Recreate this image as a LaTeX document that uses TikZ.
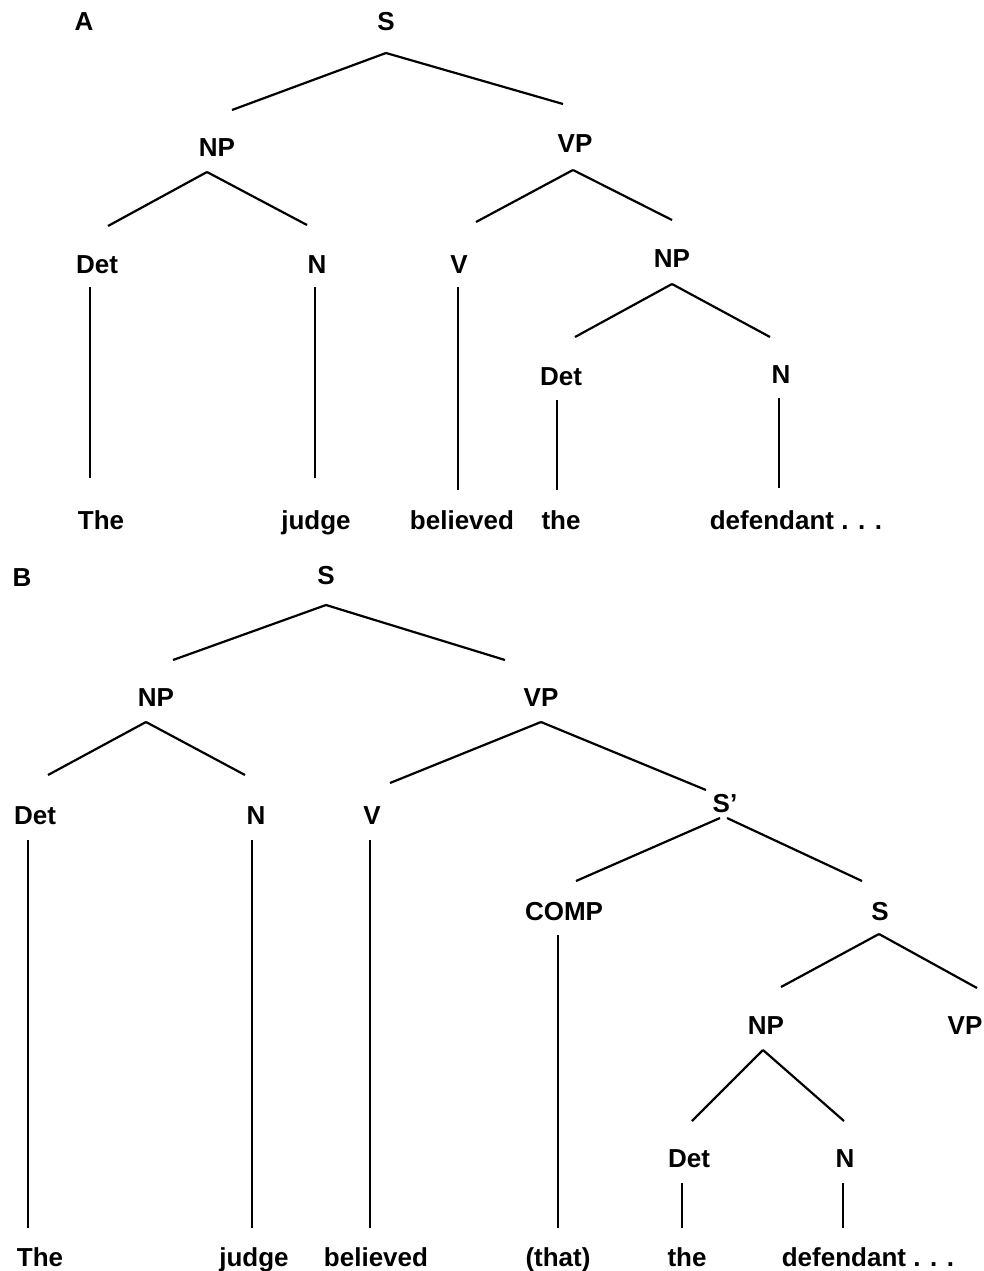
\documentclass[tikz,border=0pt]{standalone}
\usepackage{fontspec}
\setmainfont{Liberation Sans}
\begin{document}
\begin{tikzpicture}[x=1pt,y=-1pt,
  lbl/.style={anchor=base,inner sep=0pt,font=\fontsize{26}{31}\selectfont\bfseries},
  branch/.style={line width=2.2pt},
  stem/.style={line width=1.3pt}]
\useasboundingbox (0,0) rectangle (983,1271);

% ---------- tree A ----------
\node[lbl] (aLab) at (84,31)  {A};
\node[lbl] (aS)   at (386,31) {S};
\node[lbl] (aNP)  at (217,156) {NP};
\node[lbl] (aVP)  at (575,152) {VP};
\node[lbl] (aDet) at (97,273) {Det};
\node[lbl] (aN)   at (317,273) {N};
\node[lbl] (aV)   at (459,273) {V};
\node[lbl] (aNPb) at (672,267) {NP};
\node[lbl] (aDetb) at (561,385) {Det};
\node[lbl] (aNb)  at (781,383) {N};
\node[lbl] (aw1) at (101,529) {The};
\node[lbl] (aw2) at (316,529) {judge};
\node[lbl] (aw3) at (462,529) {believed};
\node[lbl] (aw4) at (561,529) {the};
\node[lbl] (aw5) at (796,529) {defendant . . .};

\draw[branch] ([shift={(0,22)}]aS.base) -- ([shift={(15,-46)}]aNP.base);
\draw[branch] ([shift={(0,22)}]aS.base) -- ([shift={(-12,-48)}]aVP.base);
\draw[branch] ([shift={(-10,16)}]aNP.base) -- ([shift={(11,-47)}]aDet.base);
\draw[branch] ([shift={(-10,16)}]aNP.base) -- ([shift={(-10,-48)}]aN.base);
\draw[branch] ([shift={(-2,18)}]aVP.base) -- ([shift={(17,-51)}]aV.base);
\draw[branch] ([shift={(-2,18)}]aVP.base) -- ([shift={(0,-47)}]aNPb.base);
\draw[branch] ([shift={(0,17)}]aNPb.base) -- ([shift={(14,-48)}]aDetb.base);
\draw[branch] ([shift={(0,17)}]aNPb.base) -- ([shift={(-11,-46)}]aNb.base);

\draw[stem] ([shift={(-7,14)}]aDet.base) -- ([shift={(-11,-51)}]aw1.base);
\draw[stem] ([shift={(-2,14)}]aN.base) -- ([shift={(-1,-51)}]aw2.base);
\draw[stem] ([shift={(-1,14)}]aV.base) -- ([shift={(-4,-39)}]aw3.base);
\draw[stem] ([shift={(-4,15)}]aDetb.base) -- ([shift={(-4,-39)}]aw4.base);
\draw[stem] ([shift={(-2,15)}]aNb.base) -- ([shift={(-17,-41)}]aw5.base);

% ---------- tree B ----------
\node[lbl] (bLab) at (22,586) {B};
\node[lbl] (bS)   at (326,584) {S};
\node[lbl] (bNP)  at (156,706) {NP};
\node[lbl] (bVP)  at (541,706) {VP};
\node[lbl] (bDet) at (35,824) {Det};
\node[lbl] (bN)   at (256,824) {N};
\node[lbl] (bV)   at (372,824) {V};
\node[lbl] (bSp)  at (725,812) {S'};
\node[lbl] (bCOMP) at (564,920) {COMP};
\node[lbl] (bSb)  at (880,920) {S};
\node[lbl] (bNPb) at (766,1034) {NP};
\node[lbl] (bVPb) at (965,1034) {VP};
\node[lbl] (bDetb) at (689,1167) {Det};
\node[lbl] (bNb)  at (845,1167) {N};
\node[lbl] (bw1) at (40,1266) {The};
\node[lbl] (bw2) at (254,1266) {judge};
\node[lbl] (bw3) at (376,1266) {believed};
\node[lbl] (bw4) at (558,1266) {(that)};
\node[lbl] (bw5) at (687,1266) {the};
\node[lbl] (bw6) at (868,1266) {defendant . . .};

\draw[branch] ([shift={(0,21)}]bS.base) -- ([shift={(17,-46)}]bNP.base);
\draw[branch] ([shift={(0,21)}]bS.base) -- ([shift={(-36,-46)}]bVP.base);
\draw[branch] ([shift={(-10,16)}]bNP.base) -- ([shift={(13,-49)}]bDet.base);
\draw[branch] ([shift={(-10,16)}]bNP.base) -- ([shift={(-11,-49)}]bN.base);
\draw[branch] ([shift={(0,16)}]bVP.base) -- ([shift={(18,-41)}]bV.base);
\draw[branch] ([shift={(0,16)}]bVP.base) -- ([shift={(-19,-22)}]bSp.base);
\draw[branch] ([shift={(-5,6)}]bSp.base) -- ([shift={(12,-39)}]bCOMP.base);
\draw[branch] ([shift={(2,6)}]bSp.base) -- ([shift={(-18,-39)}]bSb.base);
\draw[branch] ([shift={(-1,14)}]bSb.base) -- ([shift={(15,-47)}]bNPb.base);
\draw[branch] ([shift={(-1,14)}]bSb.base) -- ([shift={(12,-46)}]bVPb.base);
\draw[branch] ([shift={(-3,16)}]bNPb.base) -- ([shift={(3,-46)}]bDetb.base);
\draw[branch] ([shift={(-3,16)}]bNPb.base) -- ([shift={(-1,-46)}]bNb.base);

\draw[stem] ([shift={(-7,16)}]bDet.base) -- ([shift={(-12,-38)}]bw1.base);
\draw[stem] ([shift={(-4,16)}]bN.base) -- ([shift={(-2,-38)}]bw2.base);
\draw[stem] ([shift={(-2,16)}]bV.base) -- ([shift={(-6,-38)}]bw3.base);
\draw[stem] ([shift={(-6,15)}]bCOMP.base) -- ([shift={(0,-38)}]bw4.base);
\draw[stem] ([shift={(-7,16)}]bDetb.base) -- ([shift={(-5,-38)}]bw5.base);
\draw[stem] ([shift={(-2,16)}]bNb.base) -- ([shift={(-25,-38)}]bw6.base);
\end{tikzpicture}
\end{document}
